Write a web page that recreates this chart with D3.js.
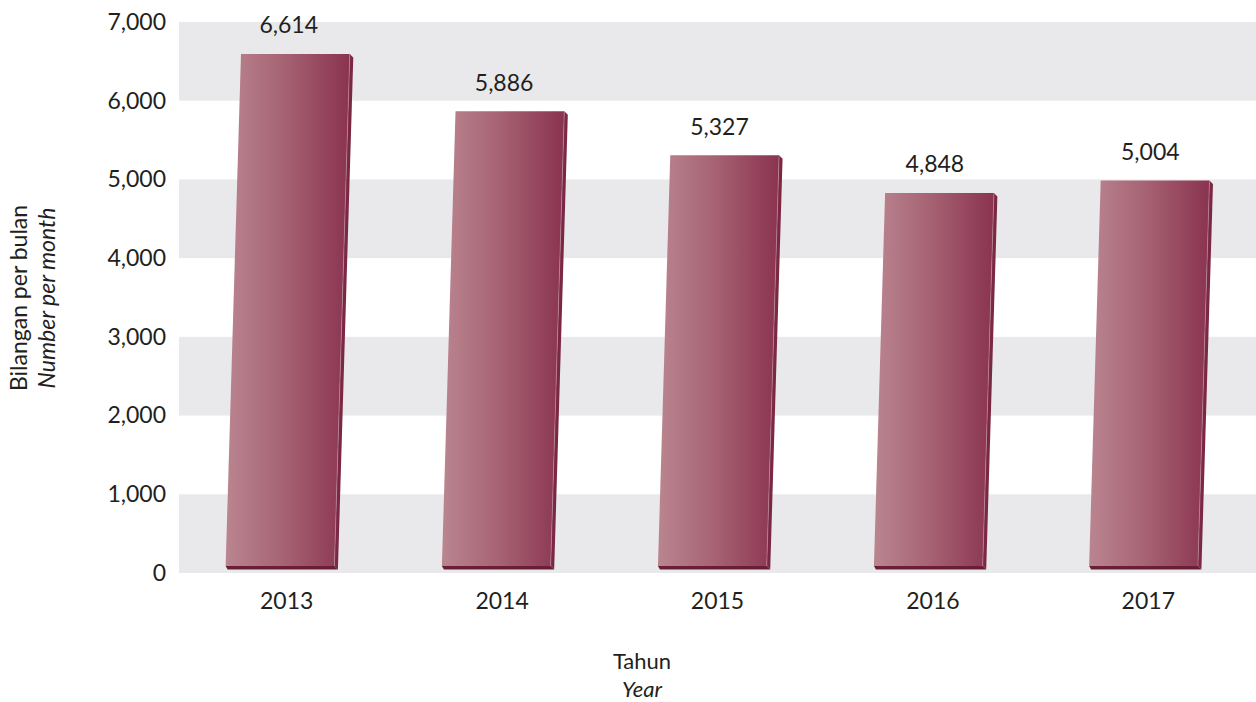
<!DOCTYPE html>
<html>
<head>
<meta charset="utf-8">
<script src="https://cdn.jsdelivr.net/npm/d3@7"></script>
<style>
  html, body { margin: 0; padding: 0; background: #ffffff; }
  svg { display: block; }
  text { font-family: Lato, "Open Sans", sans-serif; fill: #231f20; }
</style>
</head>
<body>
<svg id="chart" width="1256" height="702"></svg>
<script>
// Monthly counts per year
const years = ["2013", "2014", "2015", "2016", "2017"];
const values = [6614, 5886, 5327, 4848, 5004];
const yTicks = [0, 1000, 2000, 3000, 4000, 5000, 6000, 7000];

const W = 1256, H = 702;
const plot = { left: 179, right: 1256, top: 22, bottom: 573 };

const svg = d3.select("#chart");

const x = d3.scaleBand()
  .domain(years)
  .range([plot.left, plot.right])
  .padding(0);

const y = d3.scaleLinear()
  .domain([0, 7000])
  .range([plot.bottom, plot.top]);

// Alternating grey bands behind the bars
const bands = d3.pairs(yTicks).filter((d, i) => i % 2 === 0);
svg.append("g")
  .selectAll("rect")
  .data(bands)
  .join("rect")
  .attr("x", plot.left)
  .attr("width", plot.right - plot.left)
  .attr("y", d => y(d[1]))
  .attr("height", d => y(d[0]) - y(d[1]))
  .attr("fill", "#e9e9eb");

// Gradient on the front face of each bar
const defs = svg.append("defs");
const grad = defs.append("linearGradient")
  .attr("id", "barFace")
  .attr("x1", "0%").attr("x2", "100%")
  .attr("y1", "0%").attr("y2", "0%");
grad.append("stop").attr("offset", "0%").attr("stop-color", "#ba8590");
grad.append("stop").attr("offset", "45%").attr("stop-color", "#a76474");
grad.append("stop").attr("offset", "100%").attr("stop-color", "#8a3350");

// Slanted bars with a thin side and bottom face
const barW = x.bandwidth() * 0.505;
const slant = 0.03;
const baseY = y(0) - 7;
const depth = 3.5;

const bars = svg.append("g")
  .selectAll("g")
  .data(years.map((yr, i) => ({ year: yr, value: values[i] })))
  .join("g");

function geom(d) {
  const cx = x(d.year) + x.bandwidth() / 2 + 1;
  const top = y(d.value) + 1.5;
  const mid = (top + baseY) / 2;
  const shift = yy => slant * (mid - yy);
  return {
    tl: [cx - barW / 2 + shift(top), top],
    tr: [cx + barW / 2 + shift(top), top],
    br: [cx + barW / 2 + shift(baseY), baseY],
    bl: [cx - barW / 2 + shift(baseY), baseY]
  };
}

// side face
bars.append("path")
  .attr("d", d => {
    const g = geom(d);
    return d3.line()([
      g.tr,
      [g.tr[0] + depth, g.tr[1] + depth],
      [g.br[0] + depth, g.br[1] + depth],
      g.br
    ]) + "Z";
  })
  .attr("fill", "#7a2843");

// bottom face
bars.append("path")
  .attr("d", d => {
    const g = geom(d);
    return d3.line()([
      g.bl,
      g.br,
      [g.br[0] + depth, g.br[1] + depth],
      [g.bl[0] + 2, g.bl[1] + depth]
    ]) + "Z";
  })
  .attr("fill", "#6a1e37");

// front face
bars.append("path")
  .attr("d", d => {
    const g = geom(d);
    return d3.line()([g.tl, g.tr, g.br, g.bl]) + "Z";
  })
  .attr("fill", "url(#barFace)");

// edge highlight between front and side
bars.append("line")
  .attr("x1", d => geom(d).tr[0])
  .attr("y1", d => geom(d).tr[1] + 1)
  .attr("x2", d => geom(d).br[0])
  .attr("y2", d => geom(d).br[1])
  .attr("stroke", "#c99aa6")
  .attr("stroke-width", 0.8)
  .attr("opacity", 0.7);

// value labels
bars.append("text")
  .attr("x", d => x(d.year) + x.bandwidth() / 2 + 2)
  .attr("y", d => y(d.value) - 19)
  .attr("text-anchor", "middle")
  .attr("font-size", 23)
  .text(d => d3.format(",")(d.value));

// y axis tick labels
const yAxis = d3.axisLeft(y)
  .tickValues(yTicks)
  .tickFormat(d3.format(","))
  .tickSize(0)
  .tickPadding(13);
const yg = svg.append("g")
  .attr("transform", `translate(${plot.left},0)`)
  .call(yAxis);
yg.select(".domain").remove();
yg.selectAll("text")
  .attr("font-size", 23)
  .attr("font-family", "Lato, 'Open Sans', sans-serif")
  .attr("fill", "#231f20");

// x axis labels
const xAxis = d3.axisBottom(x).tickSize(0).tickPadding(20);
const xg = svg.append("g")
  .attr("transform", `translate(0,${plot.bottom})`)
  .call(xAxis);
xg.select(".domain").remove();
xg.selectAll("text")
  .attr("font-size", 23)
  .attr("font-family", "Lato, 'Open Sans', sans-serif")
  .attr("fill", "#231f20");

// axis titles
svg.append("text")
  .attr("x", 642).attr("y", 669)
  .attr("text-anchor", "middle")
  .attr("font-size", 22)
  .text("Tahun");
svg.append("text")
  .attr("x", 642).attr("y", 697)
  .attr("text-anchor", "middle")
  .attr("font-size", 22)
  .attr("font-style", "italic")
  .text("Year");

const yTitle = svg.append("g")
  .attr("transform", "translate(0,298) rotate(-90)");
yTitle.append("text")
  .attr("x", 0).attr("y", 27)
  .attr("text-anchor", "middle")
  .attr("font-size", 23)
  .text("Bilangan per bulan");
yTitle.append("text")
  .attr("x", 0).attr("y", 55)
  .attr("text-anchor", "middle")
  .attr("font-size", 23)
  .attr("font-style", "italic")
  .text("Number per month");
</script>
</body>
</html>
